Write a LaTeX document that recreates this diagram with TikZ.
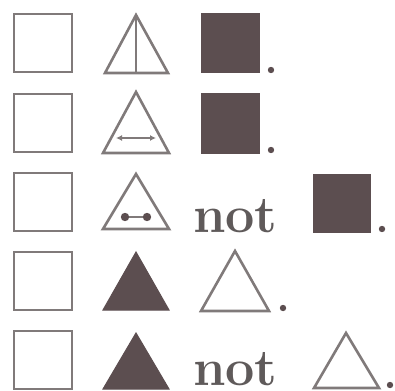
\documentclass[tikz,border=0pt]{standalone}
\usetikzlibrary{arrows.meta}
\definecolor{ln}{RGB}{128,122,122}
\definecolor{fl}{RGB}{92,78,80}
\definecolor{tx}{RGB}{95,90,90}
\begin{document}
\begin{tikzpicture}[x=1pt,y=-1pt,
  outl/.style={draw=ln,line width=2.6pt,line join=miter},
  filld/.style={fill=fl,draw=fl,line width=1pt},
  thin/.style={draw=ln,line width=1.8pt},
  dotp/.style={fill=fl,draw=none},
  word/.style={inner sep=0pt,text depth=0pt,anchor=base west,text=tx,font=\fontsize{52}{52}\selectfont\bfseries}]
\useasboundingbox (0,0) rectangle (395,390);
% left squares
\foreach \y in {14,94,173,252,331}
  \draw[outl] (14,\y) rectangle (72,\y+58);
% row 1
\draw[outl] (105,73) -- (136,15) -- (168,73) -- cycle;
\draw[thin] (136,15) -- (136,73);
\fill[filld] (201,14) rectangle (259,73);
\fill[dotp] (271,70) circle (3.2);
% row 2
\draw[outl] (103,153) -- (136,92) -- (169,153) -- cycle;
\draw[thin,{Latex[length=6pt,width=6pt]}-{Latex[length=6pt,width=6pt]}] (116,138) -- (156,138);
\fill[filld] (201,94) rectangle (259,153);
\fill[dotp] (271,150) circle (3.2);
% row 3
\draw[outl] (103,229) -- (136,174) -- (169,229) -- cycle;
\draw[thin] (125,217) -- (147,217);
\fill[dotp] (125,217) circle (4.2);
\fill[dotp] (147,217) circle (4.2);
\node[word] (n1) at (193,232) {not};
\fill[filld] (313,174) rectangle (370,232);
\fill[dotp] (382,229) circle (3.2);
% row 4
\fill[filld] (103,310) -- (136,252) -- (169,310) -- cycle;
\draw[outl] (201,311) -- (235,251) -- (269,311) -- cycle;
\fill[dotp] (283,308) circle (3.2);
% row 5
\fill[filld] (103,389) -- (136,333) -- (169,389) -- cycle;
\node[word] (n2) at (193,385) {not};
\draw[outl] (314,388) -- (346,333) -- (379,388) -- cycle;
\fill[dotp] (390,385) circle (3.2);
\end{tikzpicture}
\end{document}
